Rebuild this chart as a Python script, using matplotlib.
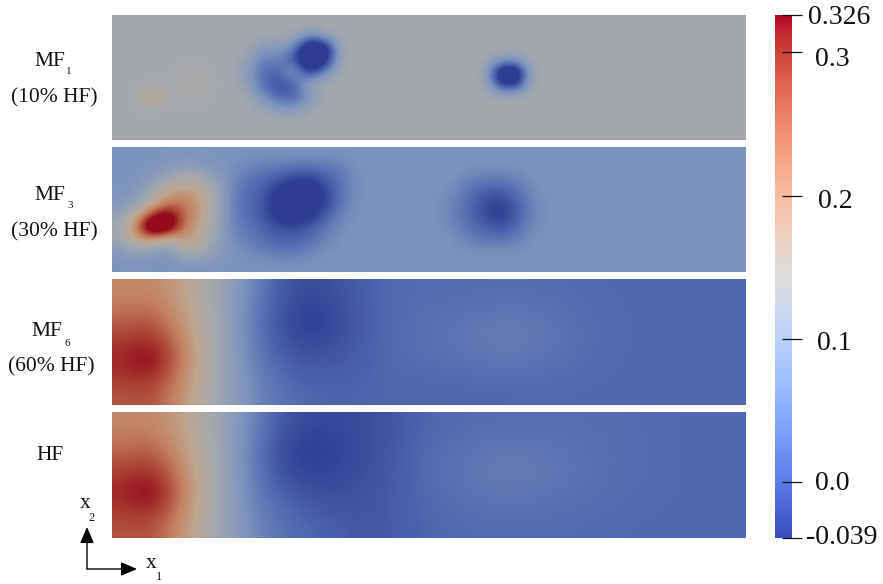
import numpy as np
import matplotlib
matplotlib.use('Agg')
import matplotlib.pyplot as plt
from matplotlib.colors import LinearSegmentedColormap, Normalize
from matplotlib.cm import ScalarMappable

plt.rcParams['font.family'] = ['Liberation Serif', 'DejaVu Serif']

vmin, vmax = -0.039, 0.326

# colours of the shaded panels (darker than the legend bar)
panel_levels = [-0.039, 0.01, 0.07, 0.145, 0.20, 0.25, 0.30, 0.326]
panel_colors = ['#2e3d92', '#4f68b0', '#7d94be', '#a4a9ae', '#bfa690', '#c4805f', '#a83a30', '#960a1e']

# MF1: grid of 10 x 40, flat background with a few blobs
mf1_bg = 0.145
mf1_pair = [[.145, .145, .145, .145, .09, .135, .145],
            [.145, .09, .10, .06, -.15, -.08, .145],
            [.125, .04, .05, -.02, -.15, -.10, .145],
            [.09, .02, 0, .11, -.08, .06, .145],
            [.11, .02, -.02, 0, .13, .145, .145],
            [.145, .06, 0, 0, .07, .145, .145],
            [.145, .13, .09, .07, .13, .145, .145]]
mf1_right = [[.145, .11, .10, .145],
             [.145, -.12, -.14, .145],
             [.145, -.06, -.08, .145],
             [.145, .145, .145, .145]]
mf1_faint = [[.145, .145, .145, .145],
             [.145, .145, .152, .155],
             [.145, .145, .155, .158],
             [.23, .145, .152, .155]]

# MF3: grid of 10 x 40
mf3_bg = 0.07
mf3_left = [[.07, .07, .07, .08, .10, .09, .07, .07, .055, .04, .04, .03, .03, .03, .045, .07],
            [.07, .07, .09, .13, .16, .16, .11, .06, .03, .015, -.005, -.03, -.04, 0, .03, .065],
            [.07, .08, .14, .20, .22, .20, .14, .05, .02, 0, -.05, -.07, -.07, -.03, .025, .065],
            [.08, .11, .18, .25, .26, .22, .15, .05, .015, -.005, -.07, -.07, -.07, -.035, .035, .07],
            [.11, .20, .32, .38, .27, .22, .14, .05, .02, -.005, -.06, -.07, -.05, 0, .05, .07],
            [.14, .25, .42, .38, .26, .20, .13, .055, .03, .01, -.015, -.02, 0, .03, .065, .07],
            [.13, .20, .21, .15, .21, .19, .12, .065, .04, .02, .005, .005, .02, .05, .07, .07],
            [.08, .11, .08, .07, .15, .15, .10, .07, .065, .05, .035, .035, .055, .07, .07, .07]]
mf3_right = [[.07, .05, .035, .035, .05, .07],
             [.06, .025, 0, 0, .015, .06],
             [.045, .015, -.02, -.04, 0, .05],
             [.045, .015, -.02, -.045, -.005, .045],
             [.055, .025, .005, -.01, .015, .06],
             [.07, .045, .03, .03, .04, .07],
             [.07, .07, .07, .07, .07, .07]]

# MF6 and HF are smooth, a grid of 7 x 24 is enough
mf6 = [[.24, .24, .215, .165, .10, .04, -.01, -.022, -.015, 0, .012, .016, .016, .017, .018, .018, .017, .015, .012, .012, .012, .012, .012, .012],
       [.255, .26, .225, .165, .10, .03, -.015, -.033, -.02, 0, .012, .018, .02, .022, .025, .025, .022, .018, .014, .012, .012, .012, .012, .012],
       [.275, .285, .24, .17, .10, .025, -.02, -.037, -.025, -.003, .012, .02, .024, .03, .035, .035, .03, .02, .015, .012, .012, .012, .012, .012],
       [.30, .315, .26, .175, .10, .03, -.012, -.027, -.018, 0, .012, .02, .025, .03, .036, .036, .03, .02, .015, .012, .012, .012, .012, .012],
       [.31, .335, .27, .18, .10, .035, 0, -.01, -.008, .003, .012, .018, .022, .025, .03, .03, .025, .018, .014, .012, .012, .012, .012, .012],
       [.30, .31, .255, .175, .10, .045, .012, 0, 0, .005, .01, .012, .012, .016, .018, .018, .016, .014, .012, .012, .012, .012, .012, .012],
       [.28, .285, .24, .17, .10, .05, .022, .01, .005, .008, .01, .01, .01, .01, .01, .012, .012, .012, .012, .012, .012, .012, .012, .012]]
hf = [[.24, .24, .215, .165, .10, .04, -.01, -.025, -.025, -.02, -.012, .005, .012, .016, .018, .02, .02, .02, .018, .016, .014, .012, .012, .012],
      [.255, .26, .225, .165, .10, .03, -.02, -.035, -.03, -.02, -.01, .006, .016, .022, .026, .026, .025, .022, .02, .018, .015, .012, .012, .012],
      [.275, .285, .24, .17, .10, .025, -.025, -.039, -.032, -.02, -.008, .008, .02, .028, .034, .034, .03, .026, .02, .018, .015, .012, .012, .012],
      [.30, .315, .26, .175, .10, .03, -.015, -.03, -.027, -.017, -.006, .008, .02, .03, .036, .036, .032, .026, .02, .018, .015, .012, .012, .012],
      [.31, .335, .27, .18, .10, .035, 0, -.015, -.018, -.014, -.006, .008, .018, .026, .03, .03, .028, .022, .02, .016, .014, .012, .012, .012],
      [.30, .31, .255, .175, .10, .045, .012, -.002, -.01, -.01, -.005, .006, .014, .02, .022, .022, .02, .018, .016, .014, .012, .012, .012, .012],
      [.28, .285, .24, .17, .10, .05, .022, .01, -.002, -.008, -.005, .005, .012, .015, .016, .016, .016, .015, .014, .012, .012, .012, .012, .012]]

tick_values = [-0.039, 0.0, 0.1, 0.2, 0.3, 0.326]
tick_labels = ['-0.039', '0.0', '0.1', '0.2', '0.3', '0.326']

W, H = 883, 584
fig = plt.figure(figsize=(W / 100, H / 100), dpi=100)


def add_axes_px(x0, y0, x1, y1):
    return fig.add_axes([x0 / W, 1 - y1 / H, (x1 - x0) / W, (y1 - y0) / H])


field1 = np.full((10, 40), mf1_bg)
field1[1:8, 8:15] = mf1_pair
field1[3:7, 23:27] = mf1_right
field1[3:7, 2:6] = mf1_faint

field3 = np.full((10, 40), mf3_bg)
field3[1:9, 0:16] = mf3_left
field3[2:9, 21:27] = mf3_right

fields = [field1, field3, np.array(mf6), np.array(hf)]
panels = [(15, 140), (147, 272), (279, 405), (412, 538)]

pos = [(v - vmin) / (vmax - vmin) for v in panel_levels]
panel_cmap = LinearSegmentedColormap.from_list('panel', list(zip(pos, panel_colors)))

for field, (y0, y1) in zip(fields, panels):
    ax = add_axes_px(112, y0, 745, y1)
    ax.imshow(field, cmap=panel_cmap, vmin=vmin, vmax=vmax, aspect='auto',
              interpolation='bicubic', interpolation_stage='data')
    ax.axis('off')

# legend bar
cax = add_axes_px(775, 15, 792, 538)
cb = fig.colorbar(ScalarMappable(Normalize(vmin, vmax), 'coolwarm'), cax=cax)
cb.outline.set_visible(False)
cb.set_ticks(tick_values, labels=[''] * len(tick_values))
cax.minorticks_off()
cax.tick_params(direction='inout', length=14.5, width=0.9, color='#111111')

# everything else is placed in pixels of the figure
over = fig.add_axes([0, 0, 1, 1], facecolor='none')
over.set_xlim(0, W)
over.set_ylim(H, 0)
over.axis('off')


def txt(x, y, s, size=15.5):
    over.text(x, y, s, fontsize=size, ha='center', va='center', color='#111111')


for lab, x, y in zip(tick_labels, [842, 832, 834, 835, 832, 839], [537, 483, 344, 202, 60, 17]):
    txt(x, y, lab, 20)

txt(50, 61, 'MF')
txt(69, 72, '1', 8)
txt(54, 98, '(10% HF)')
txt(50, 195, 'MF')
txt(70, 206, '3', 8)
txt(54, 232, '(30% HF)')
txt(47, 331, 'MF')
txt(67, 343, '6', 8)
txt(51, 367, '(60% HF)')
txt(50, 456, 'HF')

txt(85, 503, 'x')
txt(92, 518, '2', 9)
txt(151, 564, 'x')
txt(159, 577, '1', 9)

style = dict(arrowstyle='-|>,head_width=0.3,head_length=0.7', color='black', lw=1.0,
             shrinkA=0, shrinkB=0, mutation_scale=14)
over.annotate('', xy=(87, 527), xytext=(87, 569), arrowprops=style)
over.annotate('', xy=(137, 569), xytext=(87, 569), arrowprops=style)

fig.savefig('out.png', dpi=100)
